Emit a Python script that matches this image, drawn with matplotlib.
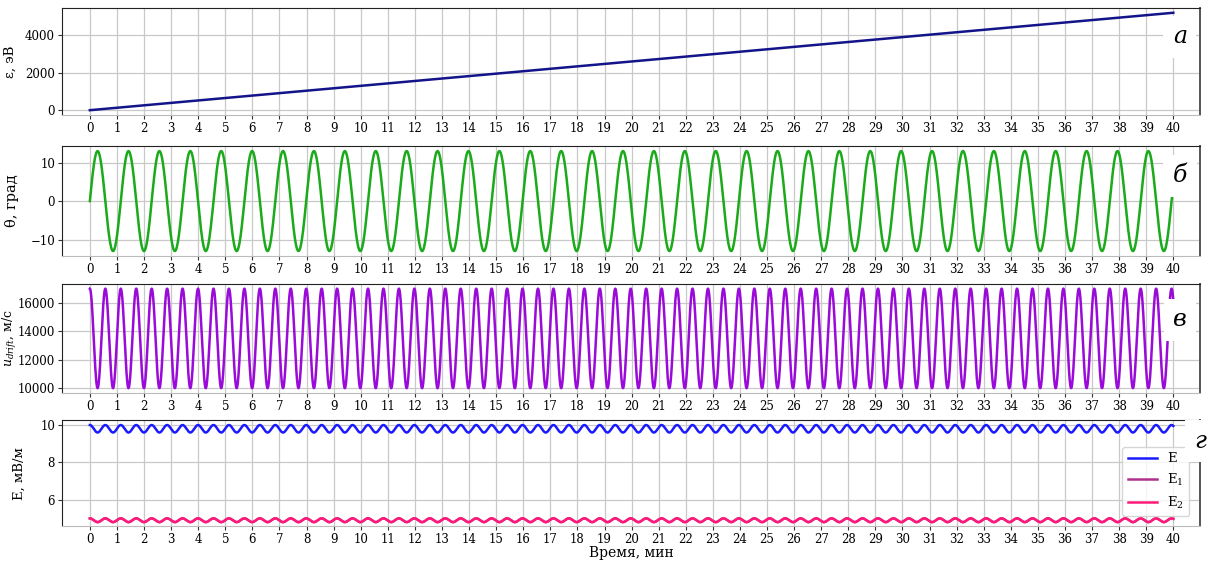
import numpy as np
import matplotlib
matplotlib.use("Agg")
import matplotlib.pyplot as plt

plt.rcParams['font.family'] = ['DejaVu Serif']
plt.rcParams['mathtext.fontset'] = 'dejavuserif'

# ---- data ----
t_ticks = list(range(0, 41))
t_end = 40.0
eps_end = 5210.0            # energy at t = 40 min, eV (linear from 0)
theta_amp = 13.0            # deg
theta_period = 1.141        # min
u_max = 17000.0             # m/s
u_min = 10000.0
u_period = 0.5705           # min
E_max, E_min = 10.0, 9.6    # mV/m
E2_max, E2_min = 5.0, 4.8
E_period = 0.5705

eps_yticks = [0, 2000, 4000]
theta_yticks = [-10, 0, 10]
u_yticks = [10000, 12000, 14000, 16000]
E_yticks = [6, 8, 10]
panel_letters = ['а', 'б', 'в', 'г']

t = np.linspace(0, t_end, 8001)
eps = eps_end * t / t_end
theta = theta_amp * np.sin(2 * np.pi * t / theta_period)
u = (u_max + u_min) / 2 + (u_max - u_min) / 2 * np.cos(2 * np.pi * t / u_period)
E = (E_max + E_min) / 2 + (E_max - E_min) / 2 * np.cos(2 * np.pi * t / E_period)
E2 = (E2_max + E2_min) / 2 + (E2_max - E2_min) / 2 * np.cos(2 * np.pi * t / E_period)
E1 = E2.copy()

fig = plt.figure(figsize=(12.15, 5.64), dpi=100)
left, width = 0.051, 0.937
boxes = [(0.796, 0.190), (0.546, 0.195), (0.303, 0.194), (0.067, 0.188)]
axes = [fig.add_axes([left, b, width, h]) for b, h in boxes]

def style(ax, yticks, ylabel, letter, lx, ly, labx, labsize=10):
    ax.set_xlim(-1.03, 41.0)
    ax.set_xticks(t_ticks)
    ax.set_xticklabels([str(v) for v in t_ticks])
    ax.set_yticks(yticks)
    ax.tick_params(axis='both', labelsize=8.5, length=3, color='#333333', pad=2)
    ax.grid(True, color='#c9c9c9', linewidth=0.9)
    ax.set_axisbelow(True)
    ax.spines['top'].set_color('#222222')
    ax.spines['left'].set_color('#222222')
    ax.spines['right'].set_color('#555555')
    ax.spines['right'].set_linewidth(1.4)
    ax.spines['bottom'].set_color('#bbbbbb')
    ax.set_ylabel(ylabel, fontsize=labsize)
    ax.yaxis.set_label_coords(labx, 0.5)
    ax.text(lx, ly, letter, transform=ax.transAxes, fontsize=17, style='italic',
            ha='center', va='center', zorder=10,
            bbox=dict(boxstyle='square,pad=0.4', fc='white', ec='none'))

ax = axes[0]
ax.plot(t, eps, color='#14148a', lw=1.8)
ax.set_ylim(-260, 5470)
style(ax, eps_yticks, 'ε, эВ', panel_letters[0], 0.982, 0.73, -0.040, 9.5)

ax = axes[1]
ax.plot(t, theta, color='#1aaa1a', lw=1.8)
ax.set_ylim(-14.3, 14.3)
style(ax, theta_yticks, 'θ, град', panel_letters[1], 0.982, 0.73, -0.038, 10.5)

ax = axes[2]
ax.plot(t, u, color='#9a0ad8', lw=1.8)
ax.set_ylim(9650, 17350)
style(ax, u_yticks, r'$u_{drift}$, м/с', panel_letters[2], 0.982, 0.67, -0.038, 9)

ax = axes[3]
ax.plot(t, E, color='#1a1aff', lw=1.8, label='E')
ax.plot(t, E1, color='#b0308f', lw=1.8, label=r'E$_1$')
ax.plot(t, E2, color='#ff1a7a', lw=1.8, label=r'E$_2$')
ax.set_ylim(4.58, 10.26)
style(ax, E_yticks, 'E, мВ/м', panel_letters[3], 1.0, 0.80, -0.032, 9.5)
ax.set_xlabel('Время, мин', fontsize=10)
ax.xaxis.set_label_coords(0.5, -0.25)
ax.xaxis.label.set_va('center')
ax.legend(loc='upper right', bbox_to_anchor=(0.996, 0.81), fontsize=9.5,
          handlelength=2.2, borderpad=0.4, labelspacing=0.5)

fig.savefig('out.png', dpi=100)
